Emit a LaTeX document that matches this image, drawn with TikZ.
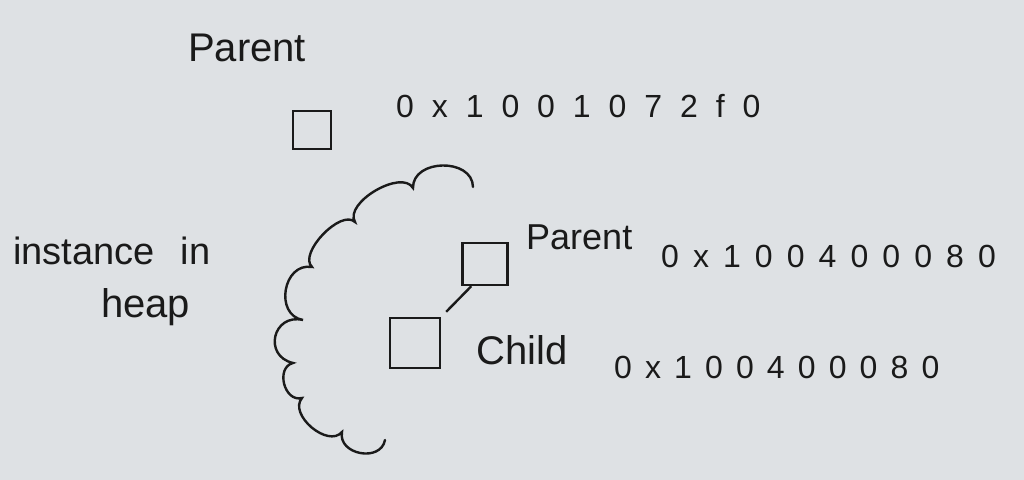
\documentclass[tikz,border=0pt]{standalone}
\usepackage{fontspec}
\setmainfont{Liberation Sans}
\definecolor{paper}{RGB}{222,225,228}
\definecolor{ink}{RGB}{26,26,26}

\begin{document}
\begin{tikzpicture}[
    x=0.5pt, y=-0.5pt,
    line width=1.2pt,
    every node/.style={text=ink, inner sep=0pt},
    cell/.style={draw=ink, line width=1.2pt},
    word/.style={anchor=base west, font={\fontsize{#1}{#1}\selectfont}},
    word/.default=19,
    addr/.style={anchor=base west, font={\fontsize{16}{18}\selectfont\addfontfeatures{LetterSpace=#1}}},
    addr/.default=44,
    lobe/.style={bend right=90, looseness=#1}
]

\fill[paper] (0,0) rectangle (1024,480);
\useasboundingbox (0,0) rectangle (1024,480);

% pointer on the stack
\node (root) [word=20] at (187,62) {Parent};
\node (p) [cell, minimum width=19pt, minimum height=19pt] at (312,130) {};
\node (paddr) [addr=56] at (395,118) {0x1001072f0};

% heap side
\node (heap1) [word] at (12,265) {instance\hspace{13pt}in};
\node (heap2) [word=20] at (100,318) {heap};

\draw[ink, line cap=round]
    (473,187) to[lobe=1.25] (413,188)
              to[lobe=0.85] (355,222)
              to[lobe=0.8]  (312,267)
              to[lobe=1.4]  (303,320)
              to[lobe=1.8]  (293,363)
              to[lobe=1.3]  (302,398)
              to[lobe=1.05] (342,432)
              to[lobe=1.35] (385,440);

\node (hp) [cell, minimum width=22.5pt, minimum height=21pt] at (485,264) {};
\node (ch) [cell, minimum size=25pt] at (415,343) {};

\node (hpname) [word=18] at (525,250) {Parent};
\node (hpaddr) [addr=44] at (660,268) {0x100400080};
\node (chname) [word=20] at (475,365) {Child};
\node (chaddr) [addr=41] at (613,379) {0x100400080};

\draw[ink] ([xshift=5pt]hp.south west) -- ([xshift=2.5pt, yshift=2.5pt]ch.north east);

\end{tikzpicture}
\end{document}
